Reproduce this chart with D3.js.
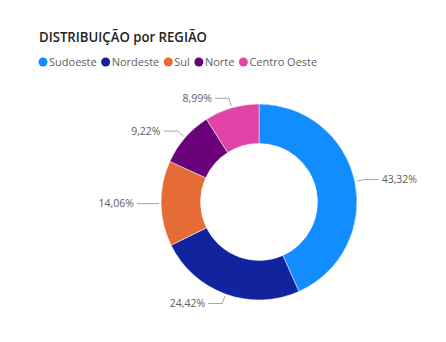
<!DOCTYPE html>
<html>
<head>
<meta charset="utf-8">
<script src="https://cdn.jsdelivr.net/npm/d3@7"></script>
<style>
  html, body { margin: 0; padding: 0; background: #fff; }
  svg { display: block; }
</style>
</head>
<body>
<svg id="chart" width="446" height="342"></svg>
<script>
// Regional distribution, in percent
const regions = ["Sudoeste", "Nordeste", "Sul", "Norte", "Centro Oeste"];
const shares = [43.32, 24.42, 14.06, 9.22, 8.99];
const palette = ["#118DFF", "#12239E", "#E66C37", "#6B007B", "#E044A7"];
const titleText = "DISTRIBUIÇÃO por REGIÃO";

const svg = d3.select("#chart");
const W = 446, H = 342;
svg.append("rect").attr("width", W).attr("height", H).attr("fill", "#fff");

const color = d3.scaleOrdinal().domain(regions).range(palette);
const fmt = v => d3.format(".2f")(v).replace(".", ",") + "%";

// Title
svg.append("text")
  .attr("x", 39).attr("y", 41.5)
  .attr("font-family", "'Open Sans', sans-serif")
  .attr("font-size", 14)
  .attr("font-weight", 600)
  .attr("fill", "#252423")
  .attr("textLength", 168)
  .attr("lengthAdjust", "spacingAndGlyphs")
  .text(titleText);

// Legend
const legend = svg.append("g").attr("transform", "translate(43,62)");
let lx = 0;
regions.forEach(r => {
  const g = legend.append("g").attr("transform", `translate(${lx},0)`);
  g.append("circle").attr("r", 4.5).attr("fill", color(r));
  const t = g.append("text")
    .attr("x", 6).attr("y", 4)
    .attr("font-family", "'Open Sans', sans-serif")
    .attr("font-size", 11)
    .attr("fill", "#605e5c")
    .text(r);
  lx += 6 + t.node().getComputedTextLength() + 9;
});

// Donut
const cx = 259, cy = 202, rOuter = 98, rInner = 58.5;
const data = regions.map((r, i) => ({ region: r, value: shares[i] }));
const pie = d3.pie().value(d => d.value).sort(null);
const arcs = pie(data);
const arc = d3.arc().innerRadius(rInner).outerRadius(rOuter);

const g = svg.append("g").attr("transform", `translate(${cx},${cy})`);
g.selectAll("path.slice")
  .data(arcs)
  .join("path")
  .attr("class", "slice")
  .attr("d", arc)
  .attr("fill", d => color(d.data.region))
  .attr("stroke", "#fff")
  .attr("stroke-width", 0.5);

// Leader lines and labels
const startArc = d3.arc().innerRadius(rOuter + 2).outerRadius(rOuter + 2);
const elbowArc = d3.arc().innerRadius(108).outerRadius(108);
arcs.forEach(d => {
  const mid = (d.startAngle + d.endAngle) / 2;
  const right = Math.sin(mid) >= 0;
  const p0 = startArc.centroid(d);
  const p1 = elbowArc.centroid(d);
  const p2 = [p1[0] + (right ? 14 : -14), p1[1]];
  g.append("polyline")
    .attr("points", [p0, p1, p2].map(p => p.join(",")).join(" "))
    .attr("fill", "none")
    .attr("stroke", "#a6a6a6")
    .attr("stroke-width", 1);
  g.append("text")
    .attr("x", p2[0] + (right ? 3 : -3))
    .attr("y", p2[1])
    .attr("dy", "0.35em")
    .attr("text-anchor", right ? "start" : "end")
    .attr("font-family", "'Open Sans', sans-serif")
    .attr("font-size", 10.5)
    .attr("fill", "#605e5c")
    .text(fmt(d.data.value));
});
</script>
</body>
</html>
